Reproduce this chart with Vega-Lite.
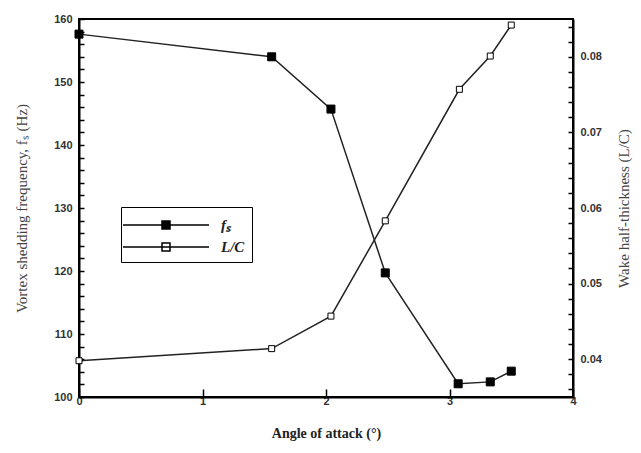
{
  "$schema": "https://vega.github.io/schema/vega-lite/v6.json",
  "width": 494,
  "height": 378,
  "autosize": {"type": "none"},
  "padding": {"left": 79, "top": 19, "right": 68, "bottom": 56},
  "background": "white",
  "config": {
    "view": {"stroke": "black", "strokeWidth": 2},
    "axis": {
      "zindex": 1,
      "domainColor": "black",
      "domainWidth": 2,
      "tickColor": "black",
      "tickWidth": 1.5,
      "grid": false,
      "labelOverlap": false,
      "labelFont": "Liberation Sans",
      "labelFontWeight": "bold",
      "labelFontSize": 11,
      "labelColor": "#333333",
      "titleFont": "Liberation Serif",
      "titleFontWeight": "normal",
      "titleFontSize": 15,
      "titleColor": "#444444"
    }
  },
  "data": {
    "values": [
      {"angle": 0, "series": "fs", "value": 157.6},
      {"angle": 1.56, "series": "fs", "value": 154.0},
      {"angle": 2.04, "series": "fs", "value": 145.7},
      {"angle": 2.48, "series": "fs", "value": 119.7},
      {"angle": 3.07, "series": "fs", "value": 102.1},
      {"angle": 3.33, "series": "fs", "value": 102.4},
      {"angle": 3.5, "series": "fs", "value": 104.1},
      {"angle": 0, "series": "LC", "value": 0.0398},
      {"angle": 1.56, "series": "LC", "value": 0.0414},
      {"angle": 2.04, "series": "LC", "value": 0.0457},
      {"angle": 2.48, "series": "LC", "value": 0.0583},
      {"angle": 3.08, "series": "LC", "value": 0.0757},
      {"angle": 3.33, "series": "LC", "value": 0.0801},
      {"angle": 3.5, "series": "LC", "value": 0.0842}
    ]
  },
  "encoding": {
    "x": {
      "field": "angle",
      "type": "quantitative",
      "scale": {"domain": [0, 4], "nice": false, "zero": false},
      "axis": {
        "title": "Angle of attack (°)",
        "titleFontWeight": "bold",
        "titleColor": "#222222",
        "titleFontSize": 14,
        "titlePadding": 20,
        "tickCount": 20,
        "format": "d",
        "labelOpacity": {"condition": {"test": "abs(datum.value - round(datum.value)) < 0.001", "value": 1}, "value": 0},
        "tickSize": {"condition": {"test": "abs(datum.value - round(datum.value)) < 0.001", "value": -8}, "value": -4},
        "labelPadding": 6,
        "labelFlush": false
      }
    }
  },
  "layer": [
    {
      "transform": [{"filter": "datum.series === 'fs'"}],
      "encoding": {
        "y": {
          "field": "value",
          "type": "quantitative",
          "scale": {"domain": [100, 160], "nice": false, "zero": false},
          "axis": {
            "orient": "left",
            "title": "Vortex shedding frequency, fₛ (Hz)",
            "titlePadding": 24,
            "tickCount": 30,
            "format": "d",
            "labelOpacity": {"condition": {"test": "datum.value % 10 === 0", "value": 1}, "value": 0},
            "tickSize": -5,
            "labelPadding": 12,
            "labelFlush": false
          }
        }
      },
      "layer": [
        {"mark": {"type": "line", "color": "#222222", "strokeWidth": 1.5}},
        {
          "mark": {"type": "point", "shape": "square", "size": 64, "filled": true, "stroke": "black", "strokeWidth": 1, "opacity": 1},
          "encoding": {
            "fill": {
              "field": "series",
              "type": "nominal",
              "scale": {"domain": ["fs", "LC"], "range": ["black", "white"]},
              "legend": {
                "title": null,
                "orient": "none",
                "legendX": 42,
                "legendY": 188,
                "strokeColor": "black",
                "padding": 7,
                "symbolType": "M-4.3,0H4.3M-0.4,-0.4H0.4V0.4H-0.4Z",
                "symbolSize": 400,
                "symbolStrokeColor": "black",
                "symbolStrokeWidth": 1.5,
                "symbolOffset": 27,
                "labelOffset": 44,
                "rowPadding": 3,
                "labelFont": "Liberation Serif",
                "labelFontStyle": "italic",
                "labelFontWeight": "bold",
                "labelFontSize": 15,
                "labelColor": "#222222",
                "labelExpr": "datum.label === 'fs' ? 'fₛ' : 'L/C'"
              }
            }
          }
        }
      ]
    },
    {
      "transform": [{"filter": "datum.series === 'LC'"}],
      "encoding": {
        "y": {
          "field": "value",
          "type": "quantitative",
          "scale": {"domain": [0.035, 0.085], "nice": false, "zero": false},
          "axis": {
            "orient": "right",
            "title": "Wake half-thickness (L/C)",
            "titleAngle": 270,
            "titlePadding": 30,
            "values": [0.036, 0.038, 0.04, 0.042, 0.044, 0.046, 0.048, 0.05, 0.052, 0.054, 0.056, 0.058, 0.06, 0.062, 0.064, 0.066, 0.068, 0.07, 0.072, 0.074, 0.076, 0.078, 0.08, 0.082, 0.084],
            "format": ".2f",
            "labelOpacity": {"condition": {"test": "abs(datum.value*100 - round(datum.value*100)) < 0.01", "value": 1}, "value": 0},
            "tickSize": -5,
            "labelPadding": 12,
            "labelFlush": false
          }
        }
      },
      "layer": [
        {"mark": {"type": "line", "color": "#222222", "strokeWidth": 1.5}},
        {
          "mark": {"type": "point", "shape": "square", "size": 36, "filled": true, "stroke": "black", "strokeWidth": 1, "opacity": 1},
          "encoding": {
            "fill": {"field": "series", "type": "nominal", "scale": {"domain": ["fs", "LC"], "range": ["black", "white"]}}
          }
        }
      ]
    }
  ],
  "resolve": {"scale": {"y": "independent"}}
}
